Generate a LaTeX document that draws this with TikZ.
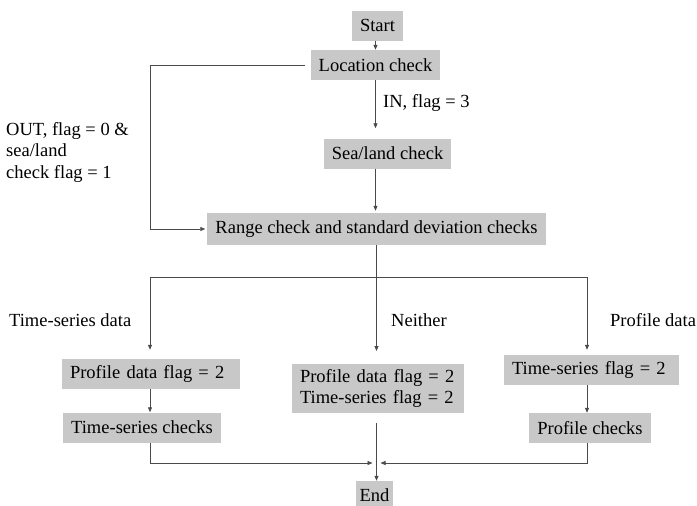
\documentclass[tikz,border=0pt]{standalone}
\usepackage{fontspec}
\setmainfont{Liberation Serif}
\usepackage{tikz}
\usepackage{xcolor}
\usetikzlibrary{arrows.meta, positioning, calc}
\definecolor{BoxGray}{HTML}{C8C8C8}
\definecolor{LineGray}{HTML}{4A4A4A}

\begin{document}
\begin{tikzpicture}[
    x=1pt, y=-1pt,
    >={Triangle[length=5pt, width=4pt]},
    every node/.style={font=\fontsize{18.5}{21.5}\selectfont, text=black},
    box/.style={fill=BoxGray, inner xsep=8pt, inner ysep=4pt, minimum height=30pt},
    wbox/.style={box, align=left},
    lbl/.style={anchor=west, inner sep=0pt, align=left},
    flow/.style={draw=LineGray, line width=0.8pt, ->}
]
\useasboundingbox (0,0) rectangle (697,506);

% boxes
\node[box] (start) at (377.5, 25.5) {Start};
\node[box] (loc) at (375.5, 65) {Location check};
\node[box] (sea) at (387.5, 153.5) {Sea/land check};
\node[box, minimum height=32pt] (range) at (376.5, 229) {Range check and standard deviation checks};
\node[wbox, text width=162pt] (tsflag) at (151, 374) {Profile data flag = 2};
\node[box] (tschk) at (142, 427.5) {Time-series checks};
\node[wbox, text width=156pt, inner ysep=5pt] (both) at (378, 388.5) {Profile data flag = 2\\Time-series flag = 2};
\node[wbox, text width=159pt] (pfflag) at (591.5, 370) {Time-series flag = 2};
\node[box] (pfchk) at (590, 428) {Profile checks};
\node[box, inner xsep=4pt, minimum height=28pt] (end) at (374.5, 495) {End};

% labels
\node[lbl] (inlbl) at (383, 103) {IN, flag = 3};
\node[lbl] (outlbl) at (6, 152) {OUT, flag = 0 \&\\sea/land\\check flag = 1};
\node[lbl] (tslbl) at (9, 320) {Time-series data};
\node[lbl] (nolbl) at (391, 320) {Neither};
\node[lbl] (pflbl) at (610, 320) {Profile data};

\coordinate (busL) at (150, 277);
\coordinate (busR) at (587, 277);
\coordinate (merge) at (376.5, 463);

% connectors
\draw[flow] (start.south -| loc) -- (loc.north);
\draw[flow, shorten >=10pt] (loc.south) -- (loc.south |- sea.north);
\draw[flow, shorten >=2pt] (loc.south |- sea.south) -- (loc.south |- range.north);
\draw[flow, shorten <=6pt, shorten >=2pt] (loc.west) -| (busL |- range.west) -- (range.west);

\draw[draw=LineGray, line width=0.8pt] (busL) -- (busR);
\draw[draw=LineGray, line width=0.8pt] (range.south) -- (range.south |- busL);
\draw[flow, shorten >=9pt] (busL) -- (busL |- tsflag.north);
\draw[flow, shorten >=13pt] (range.south |- busL) -- (range.south |- both.north);
\draw[flow, shorten >=5pt] (busR) -- (busR |- pfflag.north);

\draw[flow] (busL |- tsflag.south) -- (busL |- tschk.north);
\draw[flow] (busR |- pfflag.south) -- (busR |- pfchk.north);

\draw[flow, shorten >=4pt] (busL |- tschk.south) |- (merge);
\draw[flow, shorten >=4pt] (busR |- pfchk.south) |- (merge);
\draw[flow, shorten <=10pt] (merge |- both.south) -- (merge |- end.north);
\end{tikzpicture}
\end{document}
